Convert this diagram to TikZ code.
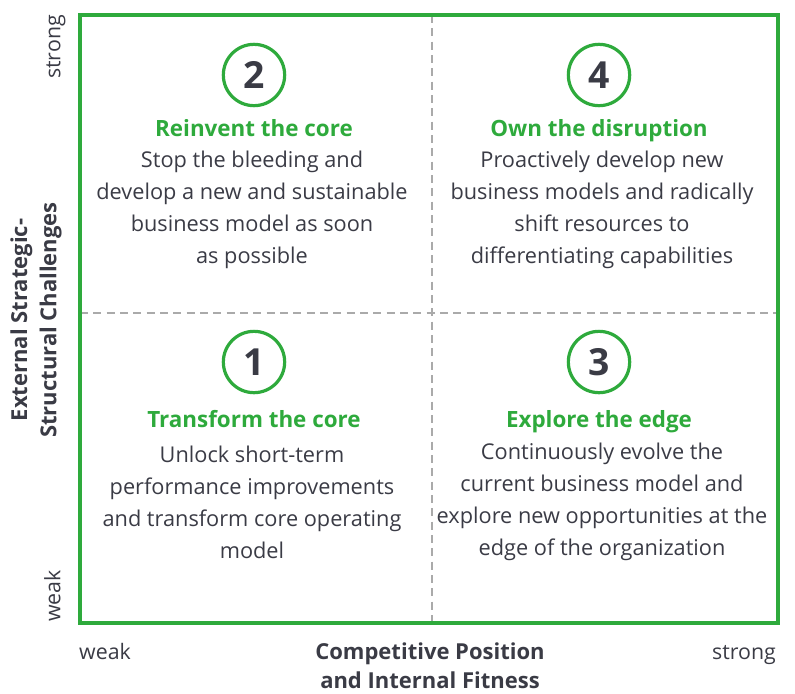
\documentclass[tikz,border=0pt]{standalone}
\usepackage{fontspec}
\setmainfont{Open Sans}
\definecolor{grn}{HTML}{2EAA3C}
\definecolor{ink}{HTML}{3A3B45}
\definecolor{midgray}{HTML}{AAAAAA}
\tikzset{
  num/.style={draw=grn,line width=2.4pt,circle,minimum size=46pt,inner sep=0pt,
    text=ink,font=\fontsize{28}{28}\selectfont\bfseries},
  ttl/.style={text=grn,text height=12pt,text depth=4pt,font=\fontsize{16.8}{18}\selectfont\bfseries},
  txt/.style={text=ink,align=center,font=\fontsize{16.3}{24}\selectfont},
  axtxt/.style={text=ink,text height=12pt,text depth=4pt,font=\fontsize{16}{18}\selectfont},
  axttl/.style={text=ink,align=center,font=\fontsize{16.5}{22}\selectfont\bfseries},
  divline/.style={midgray,line width=1.1pt,dash pattern=on 6pt off 4pt}
}
\begin{document}
\begin{tikzpicture}[x=0.75pt,y=-0.75pt]
\useasboundingbox (0,0) rectangle (795,693);

  \coordinate (tl) at (80,15);
  \coordinate (br) at (778,623);
  \coordinate (mt) at (432,15);
  \coordinate (mb) at (432,623);
  \coordinate (ml) at (80,313);
  \coordinate (mr) at (778,313);

  \draw[divline] (mt) -- (mb);
  \draw[divline] (ml) -- (mr);
  \draw[grn,line width=2.4pt] (tl) rectangle (br);

  % quadrants
  \draw (254,75) node[num] (n2) {2};
  \draw (254,131) node[ttl] (t2) {Reinvent the core};
  \draw (252,210) node[txt] (d2) {Stop the bleeding and\\develop a new and sustainable\\business model as soon\\as possible};

  \draw (599,75) node[num] (n4) {4};
  \draw (599,131) node[ttl] (t4) {Own the disruption};
  \draw (602,210) node[txt] (d4) {Proactively develop new\\business models and radically\\shift resources to\\differentiating capabilities};

  \draw (254,362) node[num] (n1) {1};
  \draw (254,422) node[ttl] (t1) {Transform the core};
  \draw (252,502) node[txt] (d1) {Unlock short-term\\performance improvements\\and transform core operating\\model};

  \draw (599,362) node[num] (n3) {3};
  \draw (599,422) node[ttl] (t3) {Explore the edge};
  \draw (602,502) node[txt] (d3) {Continuously evolve the\\current business model and\\explore new opportunities at the\\edge of the organization};

  % axes
  \draw (55,47) node[axtxt,rotate=90] (ys) {strong};
  \draw (55,596) node[axtxt,rotate=90] (yw) {weak};
  \draw (36,320) node[axttl,rotate=90] (yt) {External Strategic-\\Structural Challenges};

  \draw (105,654) node[axtxt] (xw) {weak};
  \draw (744,654) node[axtxt] (xs) {strong};
  \draw (430,666) node[axttl] (xt) {Competitive Position\\and Internal Fitness};

\end{tikzpicture}
\end{document}
